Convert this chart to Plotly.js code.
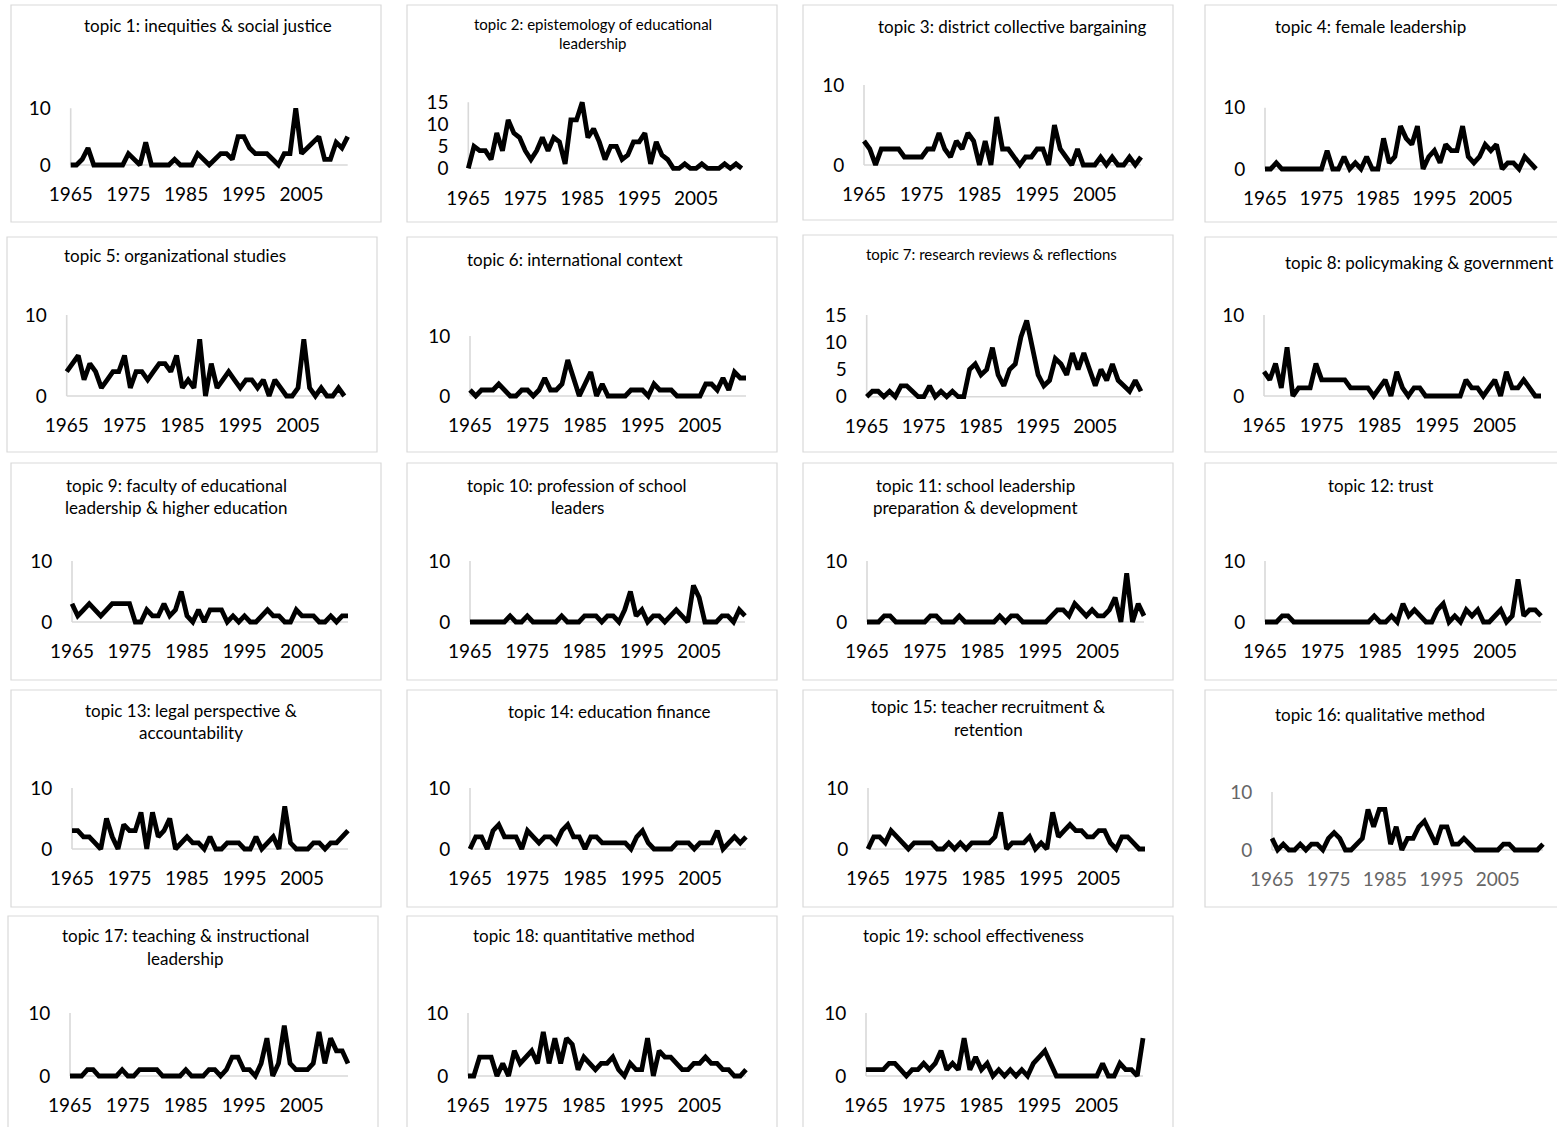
<!DOCTYPE html>
<html><head><meta charset="utf-8">
<script src="https://cdn.plot.ly/plotly-3.0.1.min.js"></script>
<style>html,body{margin:0;padding:0;background:#fff;}#chart{width:1557px;height:1127px;}</style>
</head><body><div id="chart"></div>
<script>
const years = [1965,1966,1967,1968,1969,1970,1971,1972,1973,1974,1975,1976,1977,1978,1979,1980,1981,1982,1983,1984,1985,1986,1987,1988,1989,1990,1991,1992,1993,1994,1995,1996,1997,1998,1999,2000,2001,2002,2003,2004,2005,2006,2007,2008,2009,2010,2011,2012,2013];
const xTickVals = [1965,1975,1985,1995,2005];
const xTickText = ['1965','1975','1985','1995','2005'];

const titles = [
  ['topic 1: inequities & social justice'],
  ['topic 2: epistemology of educational','leadership'],
  ['topic 3: district collective bargaining'],
  ['topic 4: female leadership'],
  ['topic 5: organizational studies'],
  ['topic 6: international context'],
  ['topic 7: research reviews & reflections'],
  ['topic 8: policymaking & government'],
  ['topic 9: faculty of educational','leadership & higher education'],
  ['topic 10: profession of school','leaders'],
  ['topic 11: school leadership','preparation & development'],
  ['topic 12: trust'],
  ['topic 13: legal perspective &','accountability'],
  ['topic 14: education finance'],
  ['topic 15: teacher recruitment &','retention'],
  ['topic 16: qualitative method'],
  ['topic 17: teaching & instructional','leadership'],
  ['topic 18: quantitative method'],
  ['topic 19: school effectiveness']
];

const topic1  = [0,0,1,3,0,0,0,0,0,0,2,1,0,4,0,0,0,0,1,0,0,0,2,1,0,1,2,2,1,5,5,3,2,2,2,1,0,2,2,10,2,3,4,5,1,1,4,3,5];
const topic2  = [0,5,4,4,2,8,4,11,8,7,4,2,4,7,4,7,6,1,11,11,15,7,9,6,2,5,5,2,3,6,6,8,1,6,3,2,0,0,1,0,0,1,0,0,0,1,0,1,0];
const topic3  = [3,2,0,2,2,2,2,1,1,1,1,2,2,4,2,1,3,2,4,3,0,3,0,6,2,2,1,0,1,1,2,2,0,5,2,1,0,2,0,0,0,1,0,1,0,0,1,0,1];
const topic4  = [0,0,1,0,0,0,0,0,0,0,0,3,0,0,2,0,1,0,2,0,0,5,1,2,7,5,4,7,0,2,3,1,4,3,3,7,2,1,2,4,3,4,0,1,1,0,2,1,0];
const topic5  = [3,4,5,2,4,3,1,2,3,3,5,1,3,3,2,3,4,4,3,5,1,2,1,7,0,4,1,2,3,2,1,2,2,1,2,0,2,1,0,0,1,7,1,0,1,0,0,1,0];
const topic6  = [1,0,1,1,1,2,1,0,0,1,1,0,1,3,1,1,2,6,3,0,2,4,0,2,0,0,0,0,1,1,1,0,2,1,1,1,0,0,0,0,0,2,2,1,3,1,4,3,3];
const topic7  = [0,1,1,0,1,0,2,2,1,0,0,2,0,1,0,1,0,0,5,6,4,5,9,4,2,5,6,11,14,9,4,2,3,7,6,4,8,5,8,5,2,5,3,6,3,2,1,3,1];
const topic8  = [3,2,4,1,6,0,1,1,1,4,2,2,2,2,2,1,1,1,1,0,1,2,0,3,1,0,1,1,0,0,0,0,0,0,0,2,1,1,0,1,2,0,3,1,1,2,1,0,0];
const topic9  = [3,1,2,3,2,1,2,3,3,3,3,0,0,2,1,1,3,1,2,5,1,0,2,0,2,2,2,0,1,0,1,0,0,1,2,1,1,0,0,2,1,1,1,0,0,1,0,1,1];
const topic10 = [0,0,0,0,0,0,0,1,0,0,1,0,0,0,0,0,1,0,0,0,1,1,1,0,1,1,0,2,5,1,2,0,1,1,0,1,2,1,0,6,4,0,0,0,1,1,0,2,1];
const topic11 = [0,0,0,1,1,0,0,0,0,0,0,1,1,0,0,0,1,0,0,0,0,0,0,1,0,1,1,0,0,0,0,0,1,2,2,1,3,2,1,2,1,1,2,4,0,8,0,3,1];
const topic12 = [0,0,0,1,1,0,0,0,0,0,0,0,0,0,0,0,0,0,0,1,0,0,1,0,3,1,2,1,0,0,2,3,0,1,0,2,1,2,0,0,1,2,0,1,7,1,2,2,1];
const topic13 = [3,3,2,2,1,0,5,2,0,4,3,3,6,0,6,2,3,5,0,1,2,1,1,0,2,0,0,1,1,1,0,0,2,0,1,2,0,7,1,0,0,0,1,1,0,1,1,2,3];
const topic14 = [0,2,2,0,3,4,2,2,2,0,3,2,1,2,2,1,3,4,2,2,0,2,2,1,1,1,1,1,0,2,3,1,0,0,0,0,1,1,1,0,1,1,1,3,0,1,2,1,2];
const topic15 = [0,2,2,1,3,2,1,0,1,1,1,1,0,0,1,0,1,0,1,1,1,1,2,6,0,1,1,1,2,0,1,0,6,2,3,4,3,3,2,2,3,3,1,0,2,2,1,0,0];
const topic16 = [2,0,1,0,0,1,0,1,1,0,2,3,2,0,0,1,2,7,4,7,7,1,4,0,2,2,4,5,3,1,4,4,1,1,2,1,0,0,0,0,0,1,1,0,0,0,0,0,1];
const topic17 = [0,0,0,1,1,0,0,0,0,1,0,0,1,1,1,1,0,0,0,0,1,0,0,0,1,1,0,1,3,3,1,1,0,2,6,0,2,8,2,1,1,1,2,7,2,6,4,4,2];
const topic18 = [0,0,3,3,3,0,2,0,4,2,3,4,2,7,2,6,2,6,5,1,3,2,1,2,2,3,1,0,2,1,1,6,0,4,3,3,2,1,1,2,2,3,2,2,1,1,0,0,1];
const topic19 = [1,1,1,1,2,2,1,0,1,1,2,1,2,4,1,2,1,6,1,3,1,2,0,1,0,1,0,1,0,2,3,4,2,0,0,0,0,0,0,0,0,2,0,0,2,1,1,0,6];

const series = [topic1,topic2,topic3,topic4,topic5,topic6,topic7,topic8,topic9,topic10,
                topic11,topic12,topic13,topic14,topic15,topic16,topic17,topic18,topic19];

// layout geometry (pixels): box, x of first/last year, y of 0 / top value, axis max, title pos
const geom = [
 {box:[11,5,381,222],    px:[70.7,347.7],  py:[165,108.3], ymax:10, tx:208,  ty:26,  ts:17},
 {box:[407,5,777,222],   px:[468.3,741.7], py:[168.3,102.3], ymax:15, tx:593, ty:24, ts:15, gap:19},
 {box:[803,5,1173,220],  px:[864,1141],    py:[165,85],    ymax:10, tx:1012, ty:27,  ts:17},
 {box:[1205,5,1562,222], px:[1265,1536],   py:[169,107.7], ymax:10, tx:1370, ty:27,  ts:17},
 {box:[7,237,377,452],   px:[66.7,344.3],  py:[396,315],   ymax:10, tx:175,  ty:256, ts:17},
 {box:[407,237,777,452], px:[470,746],     py:[396,336],   ymax:10, tx:575,  ty:259, ts:17},
 {box:[803,235,1173,452],px:[866.7,1141],  py:[396.7,315], ymax:15, tx:992,  ty:254, ts:15},
 {box:[1205,237,1562,452],px:[1264,1541],  py:[396,315],   ymax:10, tx:1283, ty:262, ts:17, left:true},
 {box:[11,463,381,680],  px:[72,348],      py:[622,561],   ymax:10, tx:176,  ty:486, ts:17, gap:22},
 {box:[407,463,777,680], px:[470,745],     py:[622,561],   ymax:10, tx:577,  ty:486, ts:17, gap:22},
 {box:[803,463,1173,680],px:[867,1144],    py:[622,561],   ymax:10, tx:975,  ty:486, ts:17, gap:22},
 {box:[1205,463,1562,680],px:[1265,1541],  py:[622,561],   ymax:10, tx:1380, ty:486, ts:17},
 {box:[11,690,381,907],  px:[72,348],      py:[849,788],   ymax:10, tx:191,  ty:710, ts:17, gap:22},
 {box:[407,690,777,907], px:[470,746],     py:[849,788],   ymax:10, tx:609,  ty:711, ts:17},
 {box:[803,690,1173,907],px:[868,1145],    py:[849,788],   ymax:10, tx:988,  ty:706, ts:17, gap:23},
 {box:[1205,690,1562,907],px:[1272,1543],  py:[850,792],   ymax:10, tx:1380, ty:714, ts:17, gray:true},
 {box:[8,916,378,1132],  px:[70,348],      py:[1076,1013], ymax:10, tx:185,  ty:935, ts:17, gap:23},
 {box:[407,916,777,1132],px:[468,746],     py:[1076,1013], ymax:10, tx:584,  ty:935, ts:17},
 {box:[803,916,1173,1132],px:[866,1143],   py:[1076,1013], ymax:10, tx:973,  ty:935, ts:17}
];

const W = 1557, H = 1127;
const FONT = 'Lato, "Open Sans", sans-serif';
const data = [], shapes = [], annotations = [];
const layout = {width:W, height:H, margin:{l:0,r:0,t:0,b:0}, showlegend:false,
  paper_bgcolor:'#ffffff', plot_bgcolor:'rgba(0,0,0,0)', font:{family:FONT, color:'#000'}};

geom.forEach((g, k) => {
  const n = k + 1;
  const xa = 'xaxis' + (n === 1 ? '' : n), ya = 'yaxis' + (n === 1 ? '' : n);
  const xr = 'x' + (n === 1 ? '' : n), yr = 'y' + (n === 1 ? '' : n);
  const s = (g.px[1] - g.px[0]) / (years.length - 1);
  const t = (g.py[0] - g.py[1]) / g.ymax;
  const pad = g.ymax * 0.1, padpx = pad * t;
  const tickColor = g.gray ? '#666666' : '#000000';
  const yTicks = g.ymax === 15 ? [0,5,10,15] : [0,10];
  layout[xa] = {domain:[(g.px[0]-s)/W, (g.px[1]+s)/W], range:[years[0]-1, years[years.length-1]+1],
    anchor:yr, tickvals:xTickVals, ticktext:xTickText, ticks:'outside', ticklen:Math.max(1, 12.5-padpx),
    tickcolor:'rgba(0,0,0,0)', showgrid:false, zeroline:false, showline:false, fixedrange:true,
    tickfont:{family:FONT, size:19, color:tickColor}};
  layout[ya] = {domain:[1-(g.py[0]+padpx)/H, 1-(g.py[1]-padpx)/H], range:[-pad, g.ymax+pad],
    anchor:xr, tickvals:yTicks, ticktext:yTicks.map(String), ticks:'outside', ticklen:Math.max(1, 15-s),
    tickcolor:'rgba(0,0,0,0)', showgrid:false, zeroline:false, showline:false, fixedrange:true,
    tickfont:{family:FONT, size:19, color:tickColor}};
  data.push({x:years, y:series[k], xaxis:xr, yaxis:yr, type:'scatter', mode:'lines',
    line:{color:'#000000', width:4.8}, hoverinfo:'skip'});
  // axis lines
  shapes.push({type:'line', xref:xr, yref:yr, x0:years[0], x1:years[years.length-1], y0:0, y1:0,
    line:{color:'#d9d9d9', width:1.6}, layer:'below'});
  shapes.push({type:'line', xref:xr, yref:yr, x0:years[0], x1:years[0], y0:0, y1:g.ymax,
    line:{color:'#d9d9d9', width:1.6}, layer:'below'});
  // panel border
  shapes.push({type:'rect', xref:'paper', yref:'paper', x0:g.box[0]/W, x1:g.box[2]/W,
    y0:1-g.box[3]/H, y1:1-g.box[1]/H, line:{color:'#d9d9d9', width:1.2}, layer:'below'});
  // title lines
  titles[k].forEach((line, j) => {
    const gap = g.gap || 22;
    annotations.push({xref:'paper', yref:'paper', x:g.tx/W, y:1-(g.ty + j*gap)/H,
      xanchor:g.left ? 'left' : 'center', yanchor:'middle', showarrow:false, text:line,
      font:{family:FONT, size:g.ts, color:'#000'}});
  });
});
layout.shapes = shapes;
layout.annotations = annotations;
Plotly.newPlot('chart', data, layout, {staticPlot:true, displayModeBar:false});
</script>
</body></html>
